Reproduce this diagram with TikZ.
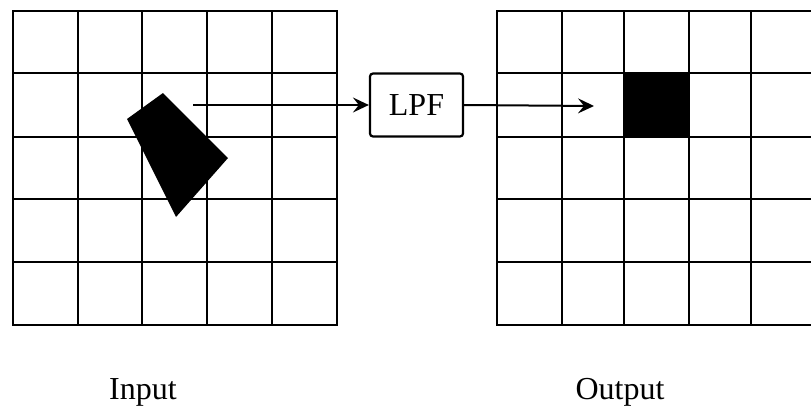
\documentclass[tikz,border=0pt]{standalone}
\usepackage{fontspec}
\setmainfont{Liberation Serif}
\usetikzlibrary{arrows.meta}
\begin{document}
\begin{tikzpicture}[x=1pt,y=-1pt,
  gridline/.style={line width=2.4pt, line cap=rect},
  flow/.style={line width=2pt, -{Stealth[length=16pt,width=15pt,inset=6pt]}},
  boxstyle/.style={draw, line width=2.2pt, rounded corners=3pt, minimum width=93pt, minimum height=63pt, inner sep=0pt, font=\fontsize{32}{36}\selectfont},
  lbl/.style={font=\fontsize{32}{36}\selectfont, inner sep=0pt}]
\useasboundingbox (0,0) rectangle (811,407);
% input grid
\foreach \x in {13,78,142,207,272,337} \draw[gridline] (\x,11) -- (\x,325);
\foreach \y in {11,73,137,199,262,325} \draw[gridline] (13,\y) -- (337,\y);
% rotated block
\fill (163,93) -- (228,158) -- (176,217) -- (127,119) -- cycle;
% output grid (clipped at the right edge)
\begin{scope}
\clip (0,0) rectangle (811,407);
\fill (624,73) rectangle (689,137);
\foreach \x in {497,562,624,689,751,815} \draw[gridline] (\x,11) -- (\x,325);
\foreach \y in {11,73,137,199,262,325} \draw[gridline] (497,\y) -- (815,\y);
\end{scope}
% LPF
\node[boxstyle] (lpf) at (416.5,105) {LPF};
\coordinate (src) at (193,105);
\coordinate (dst) at (594,106);
\draw[flow] (src) -- (lpf.west);
\draw[flow] (lpf.east) -- (dst);
\node[lbl] (in) at (143,392) {Input};
\node[lbl] (out) at (620,392) {Output};
\end{tikzpicture}
\end{document}
